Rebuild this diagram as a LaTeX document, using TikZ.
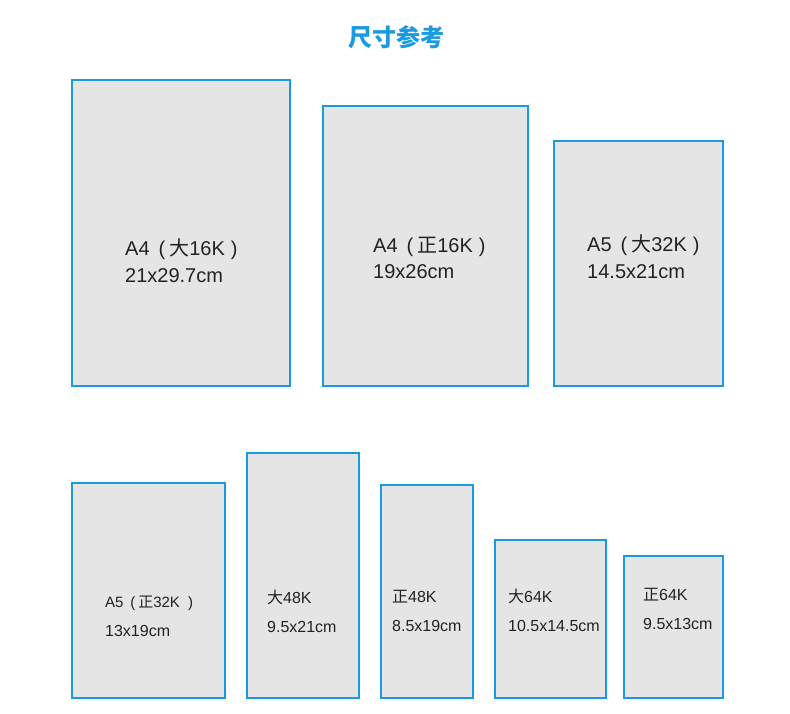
\documentclass[tikz,border=0pt]{standalone}
\usepackage{fontspec}
\setmainfont{Liberation Sans}
\newfontfamily\cjk{Noto Sans CJK SC}
\usetikzlibrary{positioning}
\definecolor{lineblue}{HTML}{1A9AE0}
\definecolor{paper}{HTML}{E5E5E5}
\definecolor{ink}{HTML}{222222}
\newcommand\lpar{\hspace{0.45em}(\hspace{0.2em}}
\newcommand\rpar[1][0.3em]{\hspace{#1})}

\tikzset{
  sheet/.style={draw=lineblue, fill=paper, line width=2pt, inner sep=0pt, outer sep=0pt},
  bigtxt/.style={font=\fontsize{20}{27}\selectfont, text=ink, align=left, anchor=base west, inner sep=0pt},
  smalltxt/.style={font=\fontsize{16}{29}\selectfont, text=ink, align=left, anchor=base west, inner sep=0pt}
}

\begin{document}
\begin{tikzpicture}[x=1pt,y=-1pt]
        \useasboundingbox (0,0) rectangle (790,714);

        % Title
        \node[font=\cjk\bfseries\fontsize{24}{24}\selectfont, text=lineblue] (title) at (396,37) {尺寸参考};

        % Top row
        \node[sheet,
        anchor=north west,
        minimum width=218pt,
        minimum height=306pt] (box1) at (72,80) {};

        \node[sheet,
        above right=0pt and 33pt of box1.south east,
        minimum width=205pt,
        minimum height=280pt] (box2) {};

        \node[sheet,
        above right=0pt and 26pt of box2.south east,
        minimum width=169pt,
        minimum height=245pt] (box3) {};

        % Bottom row
        \node[sheet,
        below right=97pt and 0pt of box1.south west,
        minimum width=153pt,
        minimum height=215pt] (box4) {};

        \node[sheet,
        above right=0pt and 22pt of box4.south east,
        minimum width=112pt,
        minimum height=245pt] (box5) {};

        \node[sheet,
        above right=0pt and 22pt of box5.south east,
        minimum width=92pt,
        minimum height=213pt] (box6) {};

        \node[sheet,
        above right=0pt and 22pt of box6.south east,
        minimum width=111pt,
        minimum height=158pt] (box7) {};

        \node[sheet,
        above right=0pt and 18pt of box7.south east,
        minimum width=99pt,
        minimum height=142pt] (box8) {};

        % Labels (anchored at the baseline of the second line)
        \node[bigtxt] (lab1) at (125,283) {A4\lpar{\cjk 大}16K\rpar\\21x29.7cm};
        \node[bigtxt] (lab2) at (373,279) {A4\lpar{\cjk 正}16K\rpar\\19x26cm};
        \node[bigtxt] (lab3) at (587,278) {A5\lpar{\cjk 大}32K\rpar\\14.5x21cm};

        \node[smalltxt] (lab4) at (105,636) {{\fontsize{15}{29}\selectfont A5\lpar{\cjk 正}32K\rpar[0.55em]}\\13x19cm};
        \node[smalltxt] (lab5) at (267,632) {{\cjk 大}48K\\9.5x21cm};
        \node[smalltxt] (lab6) at (392,631) {{\cjk 正}48K\\8.5x19cm};
        \node[smalltxt] (lab7) at (508,631) {{\cjk 大}64K\\10.5x14.5cm};
        \node[smalltxt] (lab8) at (643,629) {{\cjk 正}64K\\9.5x13cm};
    \end{tikzpicture}
\end{document}
